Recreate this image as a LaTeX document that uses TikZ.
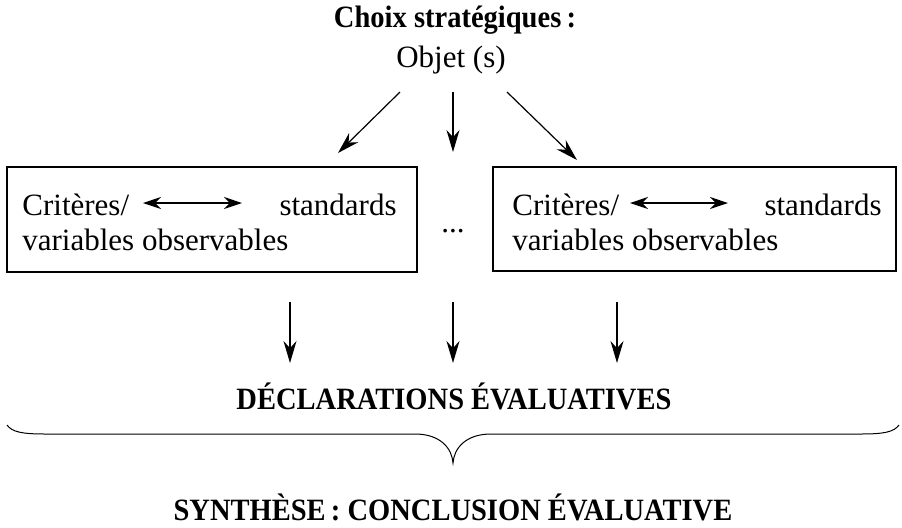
\documentclass[tikz,border=0pt]{standalone}
\usepackage{fontspec}
\setmainfont{Liberation Serif}
\newfontfamily\headfont[FakeStretch=0.92]{Liberation Serif}
\usetikzlibrary{arrows.meta}
\begin{document}
\begin{tikzpicture}[x=0.5pt,y=-0.5pt,
        txt/.style={inner sep=0pt,anchor=base,font=\fontsize{15.5}{18}\selectfont},
        head/.style={inner sep=0pt,anchor=base,font=\fontsize{15.5}{18}\headfont\bfseries},
        box/.style={draw,line width=0.6pt,inner sep=0pt},
        arr/.style={line width=0.6pt,-{Stealth[length=11pt,width=6.5pt]}},
        dbl/.style={line width=0.6pt,{Stealth[length=9pt,width=6pt]}-{Stealth[length=9pt,width=6pt]}}]
        \useasboundingbox (0,0) rectangle (902,527);
        \node[head] (choix) at (455,27) {Choix stratégiques\,:};
        \node[txt] (obj) at (451,67) {Objet (s)};
        \coordinate (oL) at (400,92);
        \coordinate (oM) at (453,92);
        \coordinate (oR) at (507,92);
        \coordinate (tL) at (338,153);
        \coordinate (tM) at (453,152);
        \coordinate (tR) at (577,160);
        \draw[arr] (oL) -- (tL);
        \draw[arr] (oM) -- (tM);
        \draw[arr] (oR) -- (tR);
        \node[box,minimum width=205pt,minimum height=52.5pt] (boxL) at (212,219.5) {};
        \node[box,minimum width=201.5pt,minimum height=52pt] (boxR) at (694.5,219) {};
        \node[txt,anchor=base west] (critL) at (22,215) {Critères/};
        \node[txt,anchor=base east] (stdL) at (397,215) {standards};
        \node[txt,anchor=base west] (varL) at (22,250) {variables observables};
        \coordinate (aL1) at (143,203);
        \coordinate (aL2) at (242,203);
        \draw[dbl] (aL1) -- (aL2);
        \node[txt,anchor=base west] (critR) at (512,215) {Critères/};
        \node[txt,anchor=base east] (stdR) at (882,215) {standards};
        \node[txt,anchor=base west] (varR) at (512,250) {variables observables};
        \coordinate (aR1) at (630,203);
        \coordinate (aR2) at (728,203);
        \draw[dbl] (aR1) -- (aR2);
        \node[txt] (dots) at (453,232) {...};
        \coordinate (bL) at (290,302);
        \coordinate (bM) at (453,302);
        \coordinate (bR) at (617,302);
        \coordinate (dL) at (290,363);
        \coordinate (dM) at (453,363);
        \coordinate (dR) at (617,363);
        \draw[arr] (bL) -- (dL);
        \draw[arr,line width=1pt] (bM) -- (dM);
        \draw[arr] (bR) -- (dR);
        \node[head] (decl) at (454,409) {DÉCLARATIONS ÉVALUATIVES};
        \draw[line width=0.5pt] (7,425) .. controls (12,432) and (22,434) .. (45,434) -- (415,434)
            .. controls (440,434) and (452,448) .. (453,463)
            .. controls (454,448) and (466,434) .. (491,434) -- (861,434)
            .. controls (884,434) and (894,432) .. (899,425);
        \node[head] (synth) at (453,520) {SYNTHÈSE\,: CONCLUSION ÉVALUATIVE};
    \end{tikzpicture}
\end{document}
